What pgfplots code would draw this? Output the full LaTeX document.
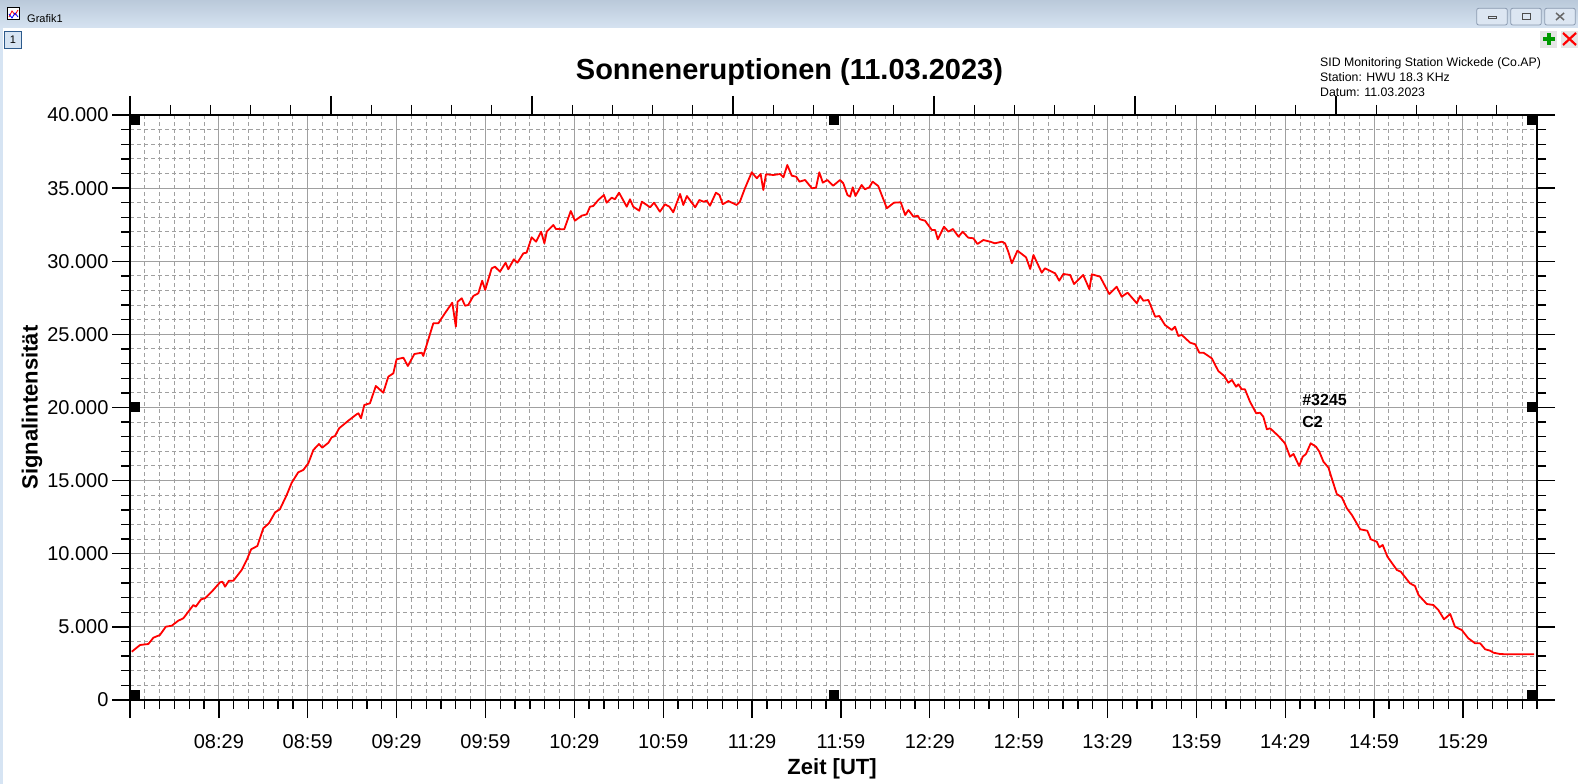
\documentclass[border=0pt]{standalone}
\usepackage{pgfplots}
\pgfplotsset{compat=1.18}
\usepackage{fontspec}
\setmainfont{Liberation Sans}
\definecolor{gridc}{RGB}{160,160,160}
\definecolor{bartop}{RGB}{186,201,218}
\definecolor{barbot}{RGB}{214,227,241}
\definecolor{strip}{RGB}{214,228,243}
\definecolor{btnb}{RGB}{138,154,176}
\definecolor{btnf}{RGB}{220,230,242}
\definecolor{tabb}{RGB}{44,90,140}
\begin{document}
\begin{tikzpicture}[x=1bp,y=1bp]
\useasboundingbox (0,0) rectangle (1578,784);
\fill[white] (0,0) rectangle (1578,784);
% window chrome
\shade[top color=bartop,bottom color=barbot] (0,756) rectangle (1578,784);
\fill[strip] (0,0) rectangle (3,756);
\draw[black,line width=0.8bp,fill=white] (7.5,764.5) rectangle (19.5,776.5);
\draw[red,line width=0.8bp] (9,767) -- (12,773) -- (15,769) -- (18,774);
\draw[blue,line width=0.8bp] (9,770) -- (12,766) -- (15,771) -- (18,767);
\node[anchor=base west,inner sep=0,font=\fontsize{11bp}{13bp}\selectfont] at (27,761.3) {Grafik1};
\draw[tabb,line width=0.8bp,fill=strip] (4.5,736) rectangle (21.5,753);
\node[font=\fontsize{11bp}{13bp}\selectfont,inner sep=0] at (13,744.5) {1};
\foreach \xa/\xb in {1476.7/1507.3,1510.7/1541.3,1544.7/1575.3}{
  \draw[btnb,line width=0.8bp,fill=btnf,rounded corners=2bp] (\xa,759) rectangle (\xb,775.7);}
\draw[black!70,line width=1bp] (1488,765) rectangle (1496,767.5);
\draw[black!70,line width=1bp] (1522,764) rectangle (1530,770.5);
\draw[black!60,line width=1.5bp] (1556,764) -- (1564,771) (1556,771) -- (1564,764);
\fill[black!10] (1540,736.3) rectangle (1557.3,753.3);
\fill[green!60!black] (1546.5,739) rectangle (1550.8,750.5);
\fill[green!60!black] (1542.8,742.6) rectangle (1554.5,746.9);
\fill[black!10] (1560.7,736.3) rectangle (1578,753.3);
\draw[red,line width=2.2bp] (1563,739) -- (1576,751) (1563,751) -- (1576,739);
% info text
\node[anchor=base west,inner sep=0,font=\fontsize{12.3bp}{14bp}\selectfont] at (1320,717) {SID Monitoring Station Wickede (Co.AP)};
\node[anchor=base west,inner sep=0,font=\fontsize{12.3bp}{14bp}\selectfont] at (1320,702) {Station: HWU 18.3 KHz};
\node[anchor=base west,inner sep=0,font=\fontsize{12.3bp}{14bp}\selectfont] at (1320,687.5) {Datum: 11.03.2023};
% top axis ticks
\begin{axis}[at={(130bp,84bp)},anchor=south west,width=1407bp,height=585bp,scale only axis,
  xmin=0,xmax=35,ymin=0,ymax=1,axis x line*=top,axis y line=none,
  xtick={0,5,...,30},minor xtick={1,2,3,4,6,7,8,9,11,12,13,14,16,17,18,19,21,22,23,24,26,27,28,29,31,32,33,34},
  xticklabels={},tick align=outside,major tick length=19bp,minor tick length=10bp,
  every tick/.style={black,line width=1.3bp},axis line style={black,line width=1.5bp}]
\end{axis}
\begin{axis}[at={(130bp,84bp)},anchor=south west,width=1407bp,height=585bp,scale only axis,
  xmin=479,xmax=954,ymin=0,ymax=40000,
  xtick={479,509,...,929},
  xticklabels={,08:29,08:59,09:29,09:59,10:29,10:59,11:29,11:59,12:29,12:59,13:29,13:59,14:29,14:59,15:29},
  minor xtick={484,489,...,954},
  ytick={0,5000,...,40000},minor ytick={1000,2000,...,39000},
  xtick pos=bottom,ytick pos=both,tick align=outside,
  major tick length=18bp,minor tick length=9bp,
  every tick/.style={black,line width=1.3bp},
  axis line style={black,line width=1.5bp},
  grid=both,
  major grid style={gridc,line width=1bp},
  minor grid style={gridc,line width=1bp,dash pattern=on 4bp off 3bp},
  scaled y ticks=false,
  /pgf/number format/.cd,1000 sep={.},assume math mode=true,/pgfplots/.cd,
  tick label style={font=\fontsize{20bp}{24bp}\selectfont},
  xticklabel shift=13bp,
  title={Sonneneruptionen (11.03.2023)},
  title style={at={(axis description cs:0.4687,1.0513)},anchor=base,inner sep=0,font=\fontsize{29bp}{34bp}\selectfont\bfseries},
  xlabel={Zeit [UT]},
  xlabel style={at={(axis description cs:0.499,-0.128)},anchor=base,inner sep=0,font=\fontsize{22bp}{26bp}\selectfont\bfseries},
  ylabel={Signalintensität},
  ylabel style={at={(axis description cs:-0.0697,0.5)},anchor=center,inner sep=0,font=\fontsize{22bp}{26bp}\selectfont\bfseries},
  clip=true]
\addplot[red,line width=1.8bp,no marks,line join=round] coordinates {
(479.6,3303)(482.4,3761)(485.2,3829)(486.9,4260)(489.1,4444)(491.1,5012)(493.1,5080)(495.3,5422)(497.0,5586)(498.7,6038)(500.4,6496)(501.2,6380)(503.0,6885)(504.3,6954)(506.6,7405)(509.4,8048)(510.2,8089)(511.1,7747)(512.4,8157)(513.9,8157)(516.7,8889)(518.4,9573)(519.9,10304)(522.0,10530)(524.0,11740)(525.9,12082)(528.0,12834)(529.6,13039)(531.9,14017)(533.6,14858)(535.8,15569)(537.5,15726)(539.2,16185)(540.9,17094)(542.8,17504)(543.9,17251)(546.0,17593)(547.1,17962)(548.2,18051)(549.6,18578)(552.7,19097)(555.5,19535)(556.1,19603)(557.0,19262)(558.1,20171)(560.0,20287)(562.0,21470)(564.5,21012)(566.2,22106)(567.9,22338)(569.0,23296)(571.3,23405)(572.8,22838)(575.0,23658)(577.5,23747)(578.0,23521)(581.4,25757)(583.1,25757)(585.3,26441)(587.8,27166)(589.0,25525)(589.6,27234)(591.0,27467)(592.1,26961)(593.2,27009)(594.9,27624)(596.6,27809)(597.9,28670)(598.9,28034)(601.1,29518)(602.2,29628)(603.9,29286)(605.8,29901)(606.7,29449)(608.6,30133)(609.8,29901)(611.8,30543)(612.9,30585)(614.6,31638)(616.1,31337)(617.8,32021)(618.9,31227)(619.7,32021)(621.9,32479)(622.8,32205)(625.6,32185)(627.8,33436)(629.2,32773)(631.5,33115)(633.2,33210)(634.3,33730)(635.4,33778)(637.1,34188)(639.0,34530)(639.9,34004)(641.6,34345)(642.7,34236)(644.1,34687)(646.7,33730)(647.8,34236)(648.9,33730)(650.9,33456)(651.8,34072)(654.6,33689)(655.9,34004)(657.9,33388)(659.6,33894)(661.1,33730)(662.4,33347)(664.7,34598)(665.8,33846)(667.0,34461)(669.8,33689)(671.2,34188)(672.6,34072)(673.7,34141)(674.8,33798)(676.8,34687)(678.0,34530)(679.1,33894)(681.0,34120)(683.8,33846)(684.9,34072)(686.6,34988)(688.9,36082)(690.6,35672)(691.9,35966)(692.8,34872)(693.7,35945)(696.2,35897)(698.5,35966)(699.6,35740)(700.9,36581)(702.4,35850)(703.9,35781)(705.0,35440)(706.9,35556)(709.2,34988)(710.6,35029)(711.7,36082)(712.9,35371)(714.4,35556)(716.4,35166)(718.7,35556)(719.8,35330)(721.2,34530)(722.1,34414)(723.0,35056)(723.9,34461)(726.0,35214)(727.1,34920)(728.6,35056)(729.7,35440)(731.6,35145)(734.5,33621)(736.9,34004)(739.2,34031)(740.7,33162)(741.8,33504)(743.5,33046)(744.9,33115)(745.7,32869)(747.4,32773)(749.7,32137)(750.8,32137)(751.7,31501)(753.8,32362)(755.3,32021)(756.8,32205)(758.7,31679)(760.1,32021)(762.0,31610)(763.7,31570)(765.1,31179)(767.1,31453)(769.4,31337)(771.0,31227)(773.3,31337)(774.4,31227)(775.5,30653)(776.7,29860)(778.6,30722)(781.5,30270)(782.9,29470)(784.0,30427)(786.8,29218)(787.9,29518)(791.3,29176)(792.7,28670)(794.1,29128)(796.4,29060)(797.7,28444)(800.8,29060)(802.9,28082)(803.7,29108)(806.5,28944)(809.6,27761)(812.1,28260)(813.8,27576)(815.8,27849)(818.9,27125)(820.0,27624)(821.1,27303)(822.8,27350)(825.1,26209)(826.5,26256)(828.4,25641)(830.7,25299)(831.8,25525)(832.9,24889)(834.1,24957)(836.9,24431)(838.6,24321)(840.0,23747)(841.4,23747)(844.2,23364)(846.4,22496)(848.4,22154)(849.8,21696)(851.0,21880)(852.4,21422)(853.2,21586)(854.3,21245)(855.4,21245)(857.1,20397)(859.2,19603)(860.5,19645)(861.6,19371)(862.8,18509)(863.9,18578)(866.7,18051)(868.9,17552)(870.6,16636)(871.8,16820)(873.7,16000)(874.9,16636)(876.0,16820)(877.6,17552)(879.4,17320)(880.5,16978)(881.9,16294)(883.6,15884)(884.7,15159)(886.4,14085)(888.1,13860)(889.8,13108)(891.5,12650)(894.3,11672)(896.7,11576)(897.9,10988)(899.9,10824)(900.8,10441)(901.9,10598)(903.5,9798)(906.7,8889)(908.0,8773)(911.1,7980)(912.8,7795)(914.0,7179)(916.8,6564)(919.0,6496)(920.7,6154)(922.6,5518)(924.7,5880)(926.3,5012)(928.6,4786)(930.8,4219)(933.1,3877)(934.8,3877)(936.5,3467)(938.2,3371)(939.3,3234)(941.5,3145)(943.8,3125)(953.0,3125)
};
\node[anchor=base west,inner sep=0,font=\fontsize{16bp}{19bp}\selectfont\bfseries] at (axis cs:874.7,20170) {\#3245};
\node[anchor=base west,inner sep=0,font=\fontsize{16bp}{19bp}\selectfont\bfseries] at (axis cs:874.7,18620) {C2};
% selection handles
\fill[black] (rel axis cs:0,1) rectangle ++(10bp,-10bp);
\fill[black] ([xshift=-5bp]rel axis cs:0.5,1) rectangle ++(10bp,-10bp);
\fill[black] (rel axis cs:1,1) rectangle ++(-10bp,-10bp);
\fill[black] ([yshift=5bp]rel axis cs:0,0.5) rectangle ++(10bp,-10bp);
\fill[black] ([yshift=5bp]rel axis cs:1,0.5) rectangle ++(-10bp,-10bp);
\fill[black] (rel axis cs:0,0) rectangle ++(10bp,10bp);
\fill[black] ([xshift=-5bp]rel axis cs:0.5,0) rectangle ++(10bp,10bp);
\fill[black] (rel axis cs:1,0) rectangle ++(-10bp,10bp);
\end{axis}
\end{tikzpicture}
\end{document}
